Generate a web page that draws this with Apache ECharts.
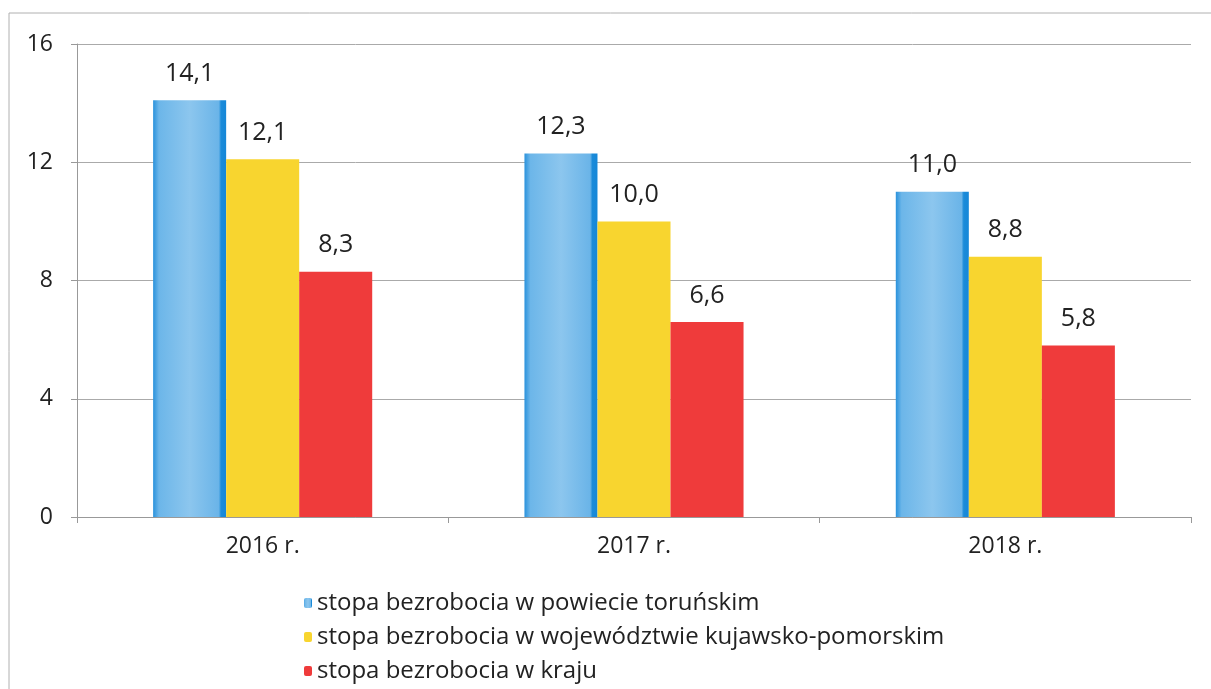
<!DOCTYPE html>
<html>
<head>
<meta charset="utf-8">
<script src="https://cdn.jsdelivr.net/npm/echarts@6/dist/echarts.min.js"></script>
<style>
html, body { margin: 0; padding: 0; background: #fff; }
#chart { width: 1211px; height: 689px; }
</style>
</head>
<body>
<div id="chart"></div>
<script>
var categories = ['2016 r.', '2017 r.', '2018 r.'];
var seriesNames = [
    'stopa bezrobocia w powiecie toruńskim',
    'stopa bezrobocia w województwie kujawsko-pomorskim',
    'stopa bezrobocia w kraju'
];
var powiatValues = [14.1, 12.3, 11.0];
var wojewodztwoValues = [12.1, 10.0, 8.8];
var krajValues = [8.3, 6.6, 5.8];

var fontName = '"Open Sans", "Noto Sans", sans-serif';

// niebieski słupek ma fakturę, przybliżamy gradientem
var blueFill = new echarts.graphic.LinearGradient(0, 0, 1, 0, [
    { offset: 0, color: '#2a92dc' },
    { offset: 0.08, color: '#6cb6e9' },
    { offset: 0.5, color: '#8cc6ee' },
    { offset: 0.9, color: '#6ab4e8' },
    { offset: 0.93, color: '#1b8bd9' },
    { offset: 1, color: '#1587d8' }
]);

function barLabel() {
    return {
        show : true,
        position : 'top',
        distance : 14,
        fontSize : 25,
        fontFamily : fontName,
        color : '#222',
        formatter : function(p) {
            return p.value.toFixed(1).replace('.', ',');
        }
    };
}

var chart = echarts.init(document.getElementById('chart'));
var option = {
    backgroundColor : '#fff',
    animation : false,
    graphic : [ {
        type : 'rect',
        shape : { x : 9, y : 13, width : 1230, height : 700 },
        style : { fill : 'none', stroke : '#b0b0b0', lineWidth : 1 }
    } ],
    legend : {
        orient : 'vertical',
        left : 299,
        top : 586,
        itemWidth : 8,
        itemHeight : 10,
        itemGap : 10,
        textStyle : {
            fontSize : 24,
            fontFamily : fontName,
            color : '#222'
        },
        data : seriesNames
    },
    grid : {
        left : 77,
        right : 20,
        top : 44,
        bottom : 172
    },
    xAxis : {
        type : 'category',
        data : categories,
        axisLine : { lineStyle : { color : '#999' } },
        axisTick : { show : true, length : 6, lineStyle : { color : '#999' } },
        axisLabel : {
            fontSize : 23,
            fontFamily : fontName,
            color : '#222',
            margin : 18
        }
    },
    yAxis : {
        type : 'value',
        min : 0,
        max : 16,
        interval : 4,
        axisLine : { show : true, lineStyle : { color : '#999' } },
        axisTick : { show : true, length : 6, lineStyle : { color : '#999' } },
        splitLine : { lineStyle : { color : '#aaa' } },
        axisLabel : {
            fontSize : 23,
            fontFamily : fontName,
            color : '#222',
            margin : 24
        }
    },
    series : [ {
        name : seriesNames[0],
        type : 'bar',
        barGap : '0%',
        barCategoryGap : '41%',
        itemStyle : { color : blueFill },
        label : barLabel(),
        data : powiatValues
    }, {
        name : seriesNames[1],
        type : 'bar',
        itemStyle : { color : '#f8d52f' },
        label : barLabel(),
        data : wojewodztwoValues
    }, {
        name : seriesNames[2],
        type : 'bar',
        itemStyle : { color : '#ef3b3b' },
        label : barLabel(),
        data : krajValues
    } ]
};
chart.setOption(option);
</script>
</body>
</html>
